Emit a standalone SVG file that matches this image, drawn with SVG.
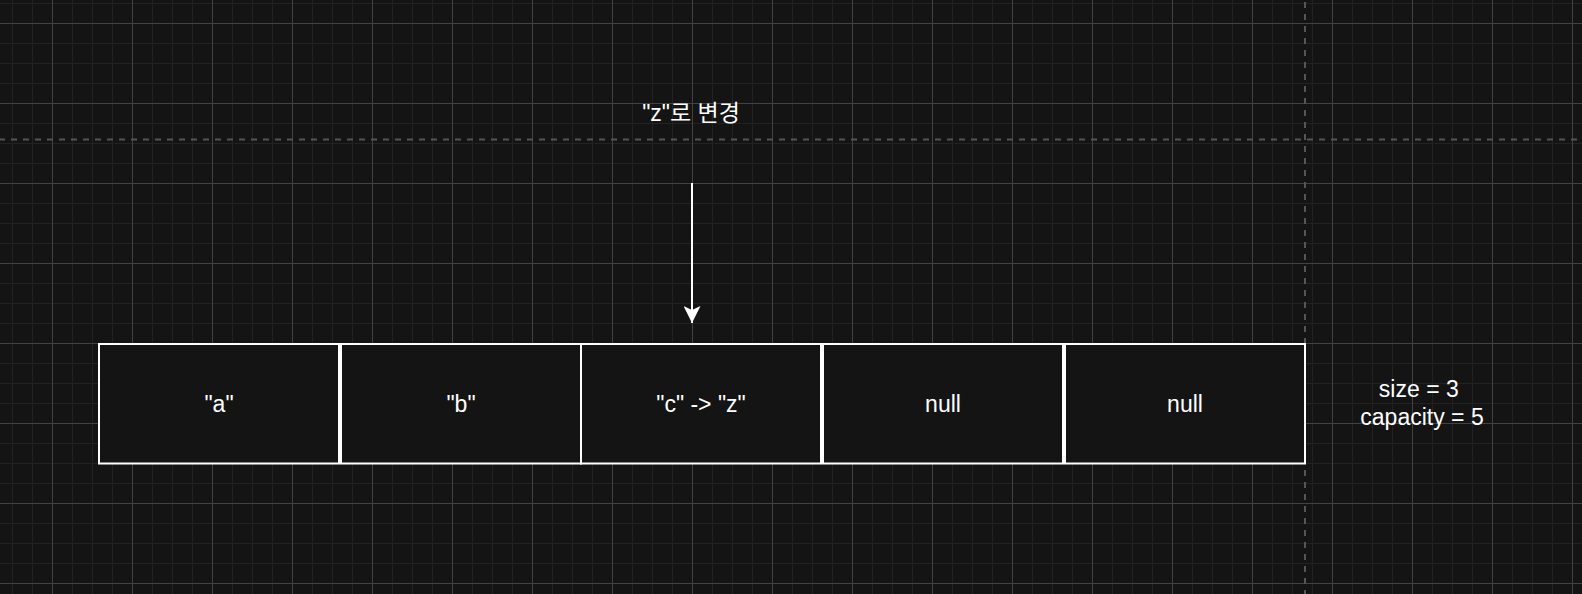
<svg xmlns="http://www.w3.org/2000/svg" width="1582" height="594" viewBox="0 0 1582 594">
  <style>
    .cell { fill: #141414; stroke: #ffffff; stroke-width: 2; }
    .lbl { font-family: "Liberation Sans", Arial, "Noto Sans CJK KR", sans-serif; font-size: 23px; fill: #ffffff; text-anchor: middle; }
    .guide { stroke: #555555; stroke-width: 2; stroke-dasharray: 6 6; fill: none; }
    .edge { stroke: #ffffff; stroke-width: 2; fill: none; }
  </style>
  <defs>
    <pattern id="minor" patternUnits="userSpaceOnUse" x="12" y="3" width="20" height="20">
      <path d="M 0.5 0 V 20 M 0 0.5 H 20" stroke="#222222" stroke-width="1" fill="none"/>
    </pattern>
    <pattern id="major" patternUnits="userSpaceOnUse" x="52" y="23" width="80" height="80">
      <path d="M 0.5 0 V 80 M 0 0.5 H 80" stroke="#424242" stroke-width="1" fill="none"/>
    </pattern>
    <marker id="arrow" markerUnits="userSpaceOnUse" viewBox="0 0 17 17" refX="17" refY="8.5" markerWidth="17" markerHeight="17" orient="auto">
      <path d="M 0 0 L 17 8.5 L 0 17 L 4 8.5 Z" fill="#ffffff"/>
    </marker>
  </defs>

  <g id="background">
    <rect x="0" y="0" width="1582" height="594" fill="#141414"/>
    <rect x="0" y="0" width="1582" height="594" fill="url(#minor)"/>
    <rect x="0" y="0" width="1582" height="594" fill="url(#major)"/>
    <line class="guide" x1="-1" y1="139.5" x2="1582" y2="139.5"/>
    <line class="guide" x1="1305" y1="2" x2="1305" y2="594"/>
  </g>

  <g id="cell-a">
    <rect class="cell" x="99" y="344" width="240" height="119.5"/>
    <text class="lbl" x="219" y="411.5">"a"</text>
  </g>
  <g id="cell-b">
    <rect class="cell" x="341" y="344" width="240" height="119.5"/>
    <text class="lbl" x="461" y="411.5">"b"</text>
  </g>
  <g id="cell-c">
    <rect class="cell" x="581" y="344" width="240" height="119.5"/>
    <text class="lbl" x="701" y="411.5">"c" -&gt; "z"</text>
  </g>
  <g id="cell-null-1">
    <rect class="cell" x="823" y="344" width="240" height="119.5"/>
    <text class="lbl" x="943" y="411.5">null</text>
  </g>
  <g id="cell-null-2">
    <rect class="cell" x="1065" y="344" width="240" height="119.5"/>
    <text class="lbl" x="1185" y="411.5">null</text>
  </g>

  <g id="label-change">
    <text class="lbl" x="691" y="121">"z"로 변경</text>
  </g>

  <g id="label-size">
    <text class="lbl">
      <tspan x="1422" y="397">size = 3</tspan>
      <tspan x="1422" y="425">capacity = 5</tspan>
    </text>
  </g>

  <g id="connectors">
    <line class="edge" x1="692" y1="183" x2="692" y2="323" marker-end="url(#arrow)"/>
  </g>
</svg>
